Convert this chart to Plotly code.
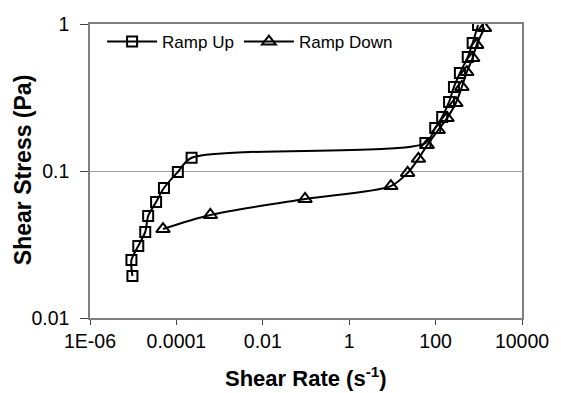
import plotly.graph_objects as go

# Ramp Up data
up_rate = [9.6e-6, 9.1e-6, 1.31e-5, 1.90e-5, 2.22e-5, 3.39e-5, 5.15e-5, 1.08e-4, 2.25e-4,
           58, 98, 142, 205, 266, 365, 555, 721, 960]
up_stress = [0.0193, 0.0248, 0.0309, 0.0385, 0.0494, 0.0615, 0.0766, 0.0985, 0.123,
             0.155, 0.196, 0.233, 0.295, 0.373, 0.464, 0.596, 0.743, 0.984]

# Ramp Down data
down_rate = [4.9e-5, 6.1e-4, 0.095, 9.2, 22.5, 40, 64, 115, 184, 295, 405, 526, 721, 891, 1355]
down_stress = [0.0403, 0.0502, 0.0645, 0.079, 0.097, 0.121, 0.150, 0.190, 0.229, 0.290,
               0.373, 0.471, 0.587, 0.720, 0.939]

x_ticks = [1e-6, 1e-4, 1e-2, 1, 100, 10000]
x_labels = ["1E-06", "0.0001", "0.01", "1", "100", "10000"]
y_ticks = [0.01, 0.1, 1]
y_labels = ["0.01", "0.1", "1"]

FONT = "Arial, Liberation Sans, sans-serif"

fig = go.Figure()
fig.add_trace(go.Scatter(
    x=up_rate, y=up_stress, name="Ramp Up", mode="lines+markers",
    line=dict(color="black", width=2, shape="spline", smoothing=0.8),
    marker=dict(symbol="square-open", size=10, color="black", line=dict(width=2, color="black")),
))
fig.add_trace(go.Scatter(
    x=down_rate, y=down_stress, name="Ramp Down", mode="lines+markers",
    line=dict(color="black", width=2, shape="spline", smoothing=0.8),
    marker=dict(symbol="triangle-up-open", size=12, color="black", line=dict(width=2, color="black")),
))

fig.update_layout(
    width=561, height=393,
    margin=dict(l=90, r=33, t=24, b=75),
    paper_bgcolor="white", plot_bgcolor="white",
    font=dict(family=FONT, color="black", size=19),
    showlegend=True,
    legend=dict(
        x=0.028, y=1.0, xanchor="left", yanchor="top",
        orientation="h", bgcolor="rgba(0,0,0,0)",
        font=dict(size=17, family=FONT),
        itemwidth=50, tracegroupgap=0,
    ),
    xaxis=dict(
        type="log", range=[-6, 4],
        tickvals=x_ticks, ticktext=x_labels,
        ticks="outside", ticklen=5, tickwidth=1, tickcolor="#444",
        showgrid=False, zeroline=False,
        showline=True, linecolor="#808080", linewidth=1.5, mirror=True,
        tickfont=dict(size=19.5),
    ),
    xaxis2=dict(
        type="log", range=[-6, 4], overlaying="x", anchor="y", side="bottom",
        tickvals=x_ticks, ticks="inside", ticklen=5, tickwidth=1, tickcolor="#444",
        showticklabels=False, showgrid=False, zeroline=False, showline=False,
    ),
    yaxis=dict(
        type="log", range=[-2, 0],
        tickvals=y_ticks, ticktext=y_labels,
        ticks="outside", ticklen=8, tickwidth=1, tickcolor="#444",
        showgrid=True, gridcolor="#a0a0a0", gridwidth=1,
        zeroline=False,
        showline=True, linecolor="#808080", linewidth=1.5, mirror=True,
        tickfont=dict(size=19.5),
        ticklabelstandoff=7,
    ),
    annotations=[
        dict(text="<b>Shear Rate (s<sup>-1</sup>)</b>", xref="paper", yref="paper",
             x=0.5, y=-0.2, xanchor="center", yanchor="middle", showarrow=False,
             font=dict(size=22, family=FONT)),
        dict(text="<b>Shear Stress (Pa)</b>", xref="paper", yref="paper",
             x=-0.155, y=0.503, xanchor="center", yanchor="middle", showarrow=False,
             textangle=-90, font=dict(size=23, family=FONT)),
    ],
)

fig.write_html("out.html")
